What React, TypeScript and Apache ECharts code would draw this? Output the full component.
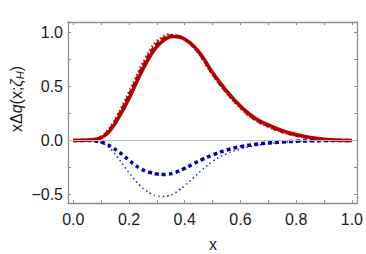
import React, { useEffect, useRef } from "react";
import * as echarts from "echarts";

const xs = [0, 0.04, 0.08, 0.1, 0.12, 0.14, 0.16, 0.18, 0.2, 0.22, 0.24, 0.26, 0.28, 0.3, 0.32, 0.34, 0.36, 0.38, 0.4, 0.43, 0.46, 0.5, 0.55, 0.6, 0.65, 0.7, 0.75, 0.8, 0.85, 0.9, 0.95, 1.0];

const redSolid = [0, 0.0005, 0.01, 0.025, 0.06, 0.12, 0.2, 0.29, 0.39, 0.5, 0.61, 0.71, 0.8, 0.87, 0.92, 0.955, 0.965, 0.96, 0.94, 0.88, 0.79, 0.63, 0.46, 0.32, 0.21, 0.145, 0.09, 0.055, 0.028, 0.01, 0.002, 0];
const redDotted = [0, 0.001, 0.015, 0.035, 0.08, 0.15, 0.24, 0.34, 0.45, 0.56, 0.67, 0.77, 0.86, 0.92, 0.96, 0.982, 0.98, 0.965, 0.94, 0.87, 0.77, 0.61, 0.44, 0.3, 0.195, 0.125, 0.077, 0.043, 0.02, 0.008, 0.002, 0];
const redDashed = [0, 0.001, 0.012, 0.03, 0.07, 0.135, 0.22, 0.315, 0.42, 0.53, 0.64, 0.74, 0.83, 0.895, 0.94, 0.968, 0.973, 0.962, 0.94, 0.875, 0.78, 0.62, 0.45, 0.31, 0.2, 0.135, 0.083, 0.048, 0.024, 0.009, 0.002, 0];
const blueDashed = [0, 0, -0.005, -0.015, -0.035, -0.065, -0.1, -0.14, -0.185, -0.225, -0.26, -0.285, -0.3, -0.312, -0.317, -0.314, -0.302, -0.283, -0.26, -0.22, -0.18, -0.135, -0.09, -0.058, -0.038, -0.024, -0.015, -0.008, -0.004, -0.002, -0.001, 0];
const blueDotted = [0, 0, -0.006, -0.02, -0.05, -0.095, -0.16, -0.23, -0.3, -0.365, -0.42, -0.465, -0.497, -0.515, -0.52, -0.515, -0.495, -0.46, -0.42, -0.35, -0.28, -0.195, -0.125, -0.08, -0.05, -0.03, -0.018, -0.01, -0.005, -0.002, -0.001, 0];

const X_MIN = -0.019, X_MAX = 1.019, Y_MIN = -0.581, Y_MAX = 1.099;
const FONT = "'Liberation Sans', Arial, sans-serif";
const FRAME = "#8c8c8c";

function pts(ys: number[]) {
  return xs.map((x, i) => [x, ys[i]]);
}

function isMult(v: number, step: number) {
  const r = v / step;
  return Math.abs(r - Math.round(r)) < 1e-6;
}

export default function App() {
  const ref = useRef<HTMLDivElement>(null);
  useEffect(() => {
    const chart = echarts.init(ref.current!, null, { renderer: "svg" });
    const axisCommon = {
      type: "value" as const,
      axisLine: { show: true, onZero: false, lineStyle: { color: FRAME, width: 1.3 } },
      axisTick: { show: true, inside: true, length: 3, lineStyle: { color: FRAME, width: 1 } },
      splitLine: { show: false },
    };
    const xLabel = {
      show: true,
      color: "#1a1a1a",
      fontSize: 16,
      fontFamily: FONT,
      margin: 8,
      showMinLabel: true,
      showMaxLabel: true,
      formatter: (v: number) => (v >= -1e-9 && v <= 1 + 1e-9 && isMult(v, 0.2) ? v.toFixed(1) : ""),
    };
    const yLabel = {
      show: true,
      color: "#1a1a1a",
      fontSize: 16,
      fontFamily: FONT,
      margin: 5,
      formatter: (v: number) => (v >= -0.5 - 1e-9 && v <= 1 + 1e-9 && isMult(v, 0.5) ? v.toFixed(1).replace("-", "\u2212") : ""),
    };
    chart.setOption({
      animation: false,
      grid: { left: 68, right: 7, top: 22, bottom: 51 },
      xAxis: [
        { ...axisCommon, position: "bottom", min: X_MIN, max: X_MAX, minInterval: 0.1, maxInterval: 0.1, axisLabel: xLabel },
        { ...axisCommon, position: "top", min: X_MIN, max: X_MAX, minInterval: 0.1, maxInterval: 0.1, axisLabel: { show: false } },
      ],
      yAxis: [
        { ...axisCommon, position: "left", min: Y_MIN, max: Y_MAX, minInterval: 0.25, maxInterval: 0.25, axisLabel: yLabel },
        { ...axisCommon, position: "right", min: Y_MIN, max: Y_MAX, minInterval: 0.25, maxInterval: 0.25, axisLabel: { show: false } },
      ],
      graphic: [
        {
          type: "text",
          x: 213,
          y: 244,
          style: { text: "x", fontSize: 16, fontFamily: FONT, fill: "#1a1a1a", align: "center", verticalAlign: "middle" },
        },
        {
          type: "text",
          x: 16,
          y: 99,
          rotation: Math.PI / 2,
          style: {
            text: "x\u0394{i|q}(x;{i|\u03b6}{s|H})",
            fontSize: 16,
            fontFamily: FONT,
            fill: "#1a1a1a",
            align: "center",
            verticalAlign: "middle",
            rich: {
              i: { fontSize: 16, fontStyle: "italic", fontFamily: FONT, fill: "#1a1a1a" },
              s: { fontSize: 11, fontStyle: "italic", fontFamily: FONT, fill: "#1a1a1a", padding: [7, 0, 0, 0] },
            },
          },
        },
      ],
      series: [
        {
          type: "line",
          data: [],
          silent: true,
          markLine: {
            silent: true,
            symbol: "none",
            label: { show: false },
            lineStyle: { color: "#bdbdbd", width: 1, type: "solid" },
            data: [{ yAxis: 0 }],
          },
        },
        { type: "line", data: pts(blueDotted), smooth: true, showSymbol: false, lineStyle: { color: "#2a2ad6", width: 1.6, type: [1.5, 3] } },
        { type: "line", data: pts(blueDashed), smooth: true, showSymbol: false, lineStyle: { color: "#0000b4", width: 3.5, type: [4, 3] } },
        { type: "line", data: pts(redDotted), smooth: true, showSymbol: false, lineStyle: { color: "#c43030", width: 2.5, type: [1.5, 2.5] } },
        { type: "line", data: pts(redDashed), smooth: true, showSymbol: false, lineStyle: { color: "#a80000", width: 3, type: [5, 3] } },
        { type: "line", data: pts(redSolid), smooth: true, showSymbol: false, lineStyle: { color: "#b30000", width: 3.5 } },
      ],
    });
    return () => chart.dispose();
  }, []);
  return <div ref={ref} style={{ width: 366, height: 254, position: "absolute", left: 0, top: 0 }} />;
}
